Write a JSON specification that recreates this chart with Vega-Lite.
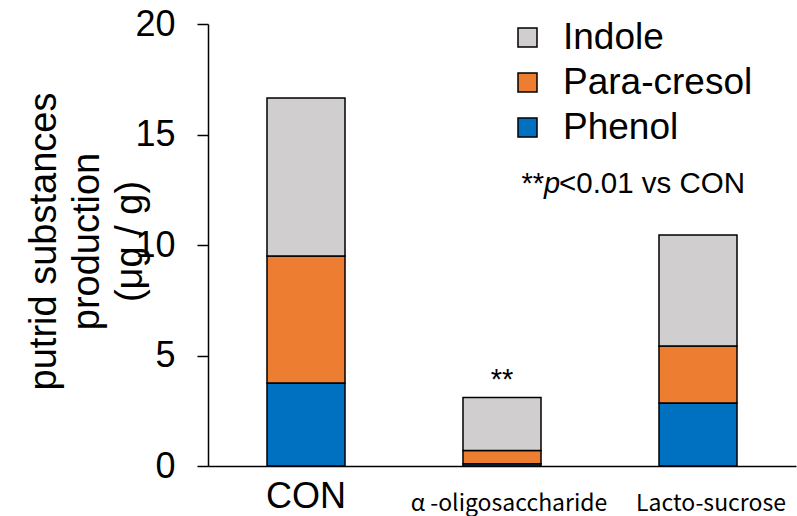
{
  "$schema": "https://vega.github.io/schema/vega-lite/v6.json",
  "width": 588,
  "height": 442,
  "autosize": {"type": "none"},
  "padding": {"left": 208, "top": 24, "right": 1, "bottom": 50},
  "config": {
    "view": {"stroke": null},
    "font": "Liberation Sans"
  },
  "layer": [
    {
      "data": {
        "values": [
          {"group": "CON", "component": "Phenol", "ord": 1, "value": 3.76},
          {"group": "CON", "component": "Para-cresol", "ord": 2, "value": 5.74},
          {"group": "CON", "component": "Indole", "ord": 3, "value": 7.15},
          {"group": "α -oligosaccharide", "component": "Phenol", "ord": 1, "value": 0.1},
          {"group": "α -oligosaccharide", "component": "Para-cresol", "ord": 2, "value": 0.6},
          {"group": "α -oligosaccharide", "component": "Indole", "ord": 3, "value": 2.4},
          {"group": "Lacto-sucrose", "component": "Phenol", "ord": 1, "value": 2.85},
          {"group": "Lacto-sucrose", "component": "Para-cresol", "ord": 2, "value": 2.58},
          {"group": "Lacto-sucrose", "component": "Indole", "ord": 3, "value": 5.02}
        ]
      },
      "mark": {"type": "bar", "stroke": "black", "strokeWidth": 1.5},
      "encoding": {
        "x": {
          "field": "group",
          "type": "nominal",
          "sort": ["CON", "α -oligosaccharide", "Lacto-sucrose"],
          "scale": {"paddingInner": 0.602, "paddingOuter": 0.301},
          "axis": {
            "title": null,
            "labelAngle": 0,
            "ticks": false,
            "domainColor": "black",
            "domainWidth": 1.5,
            "labelColor": "black",
            "labelBaseline": "alphabetic",
            "labelPadding": {"condition": {"test": "datum.value == 'CON'", "value": 41}, "value": 44},
            "labelLimit": 0,
            "labelOverlap": false,
            "labelOffset": {"condition": [{"test": "datum.value == 'Lacto-sucrose'", "value": 13}, {"test": "datum.value == 'CON'", "value": 0}], "value": 7},
            "labelFont": {"condition": {"test": "datum.value == 'CON'", "value": "Liberation Sans"}, "value": "Noto Sans CJK JP"},
            "labelFontSize": {"condition": {"test": "datum.value == 'CON'", "value": 36}, "value": 23}
          }
        },
        "y": {
          "field": "value",
          "type": "quantitative",
          "stack": "zero",
          "scale": {"domain": [0, 20], "nice": false},
          "axis": {
            "values": [0, 5, 10, 15, 20],
            "grid": false,
            "domainColor": "black",
            "domainWidth": 1.5,
            "tickColor": "black",
            "tickWidth": 1.5,
            "tickSize": 11,
            "labelFontSize": 36,
            "labelColor": "black",
            "labelPadding": 22,
            "title": ["putrid substances", "production", "(μg / g)"],
            "titleFontSize": 38,
            "titleFontWeight": "normal",
            "titleColor": "black",
            "titleLineHeight": 43,
            "titleAngle": -90,
            "titleAlign": "center",
            "titleBaseline": "alphabetic",
            "titleX": -153,
            "titleY": 217
          }
        },
        "color": {
          "field": "component",
          "type": "nominal",
          "scale": {
            "domain": ["Indole", "Para-cresol", "Phenol"],
            "range": ["#D0CECE", "#ED7D31", "#0070C0"]
          },
          "legend": {
            "title": null,
            "orient": "none",
            "legendX": 301,
            "legendY": -5,
            "padding": 0,
            "symbolType": "square",
            "symbolSize": 361,
            "symbolStrokeColor": "black",
            "symbolStrokeWidth": 1.5,
            "symbolOpacity": 1,
            "labelFontSize": 37,
            "labelColor": "black",
            "labelOffset": 17,
            "rowPadding": 7,
            "labelLimit": 400
          }
        },
        "order": {"field": "ord", "type": "quantitative"}
      }
    },
    {
      "data": {"values": [{"group": "α -oligosaccharide", "total": 3.1, "label": "**"}]},
      "mark": {"type": "text", "fontSize": 29, "baseline": "alphabetic", "dy": -8, "color": "black"},
      "encoding": {
        "x": {"field": "group", "type": "nominal", "sort": ["CON", "α -oligosaccharide", "Lacto-sucrose"]},
        "y": {"field": "total", "type": "quantitative"},
        "text": {"field": "label"}
      }
    },
    {
      "data": {"values": [{"group": "Lacto-sucrose", "pos": 12.35, "label": "**"}]},
      "mark": {"type": "text", "fontSize": 29, "baseline": "alphabetic", "align": "right", "dx": -154, "color": "black"},
      "encoding": {
        "x": {"field": "group", "type": "nominal", "sort": ["CON", "α -oligosaccharide", "Lacto-sucrose"]},
        "y": {"field": "pos", "type": "quantitative"},
        "text": {"field": "label"}
      }
    },
    {
      "data": {"values": [{"group": "Lacto-sucrose", "pos": 12.35, "label": "p"}]},
      "mark": {"type": "text", "fontSize": 29, "fontStyle": "italic", "baseline": "alphabetic", "align": "left", "dx": -154, "color": "black"},
      "encoding": {
        "x": {"field": "group", "type": "nominal", "sort": ["CON", "α -oligosaccharide", "Lacto-sucrose"]},
        "y": {"field": "pos", "type": "quantitative"},
        "text": {"field": "label"}
      }
    },
    {
      "data": {"values": [{"group": "Lacto-sucrose", "pos": 12.35, "label": "<0.01 vs CON"}]},
      "mark": {"type": "text", "fontSize": 29.5, "baseline": "alphabetic", "align": "left", "dx": -139, "color": "black"},
      "encoding": {
        "x": {"field": "group", "type": "nominal", "sort": ["CON", "α -oligosaccharide", "Lacto-sucrose"]},
        "y": {"field": "pos", "type": "quantitative"},
        "text": {"field": "label"}
      }
    }
  ]
}
